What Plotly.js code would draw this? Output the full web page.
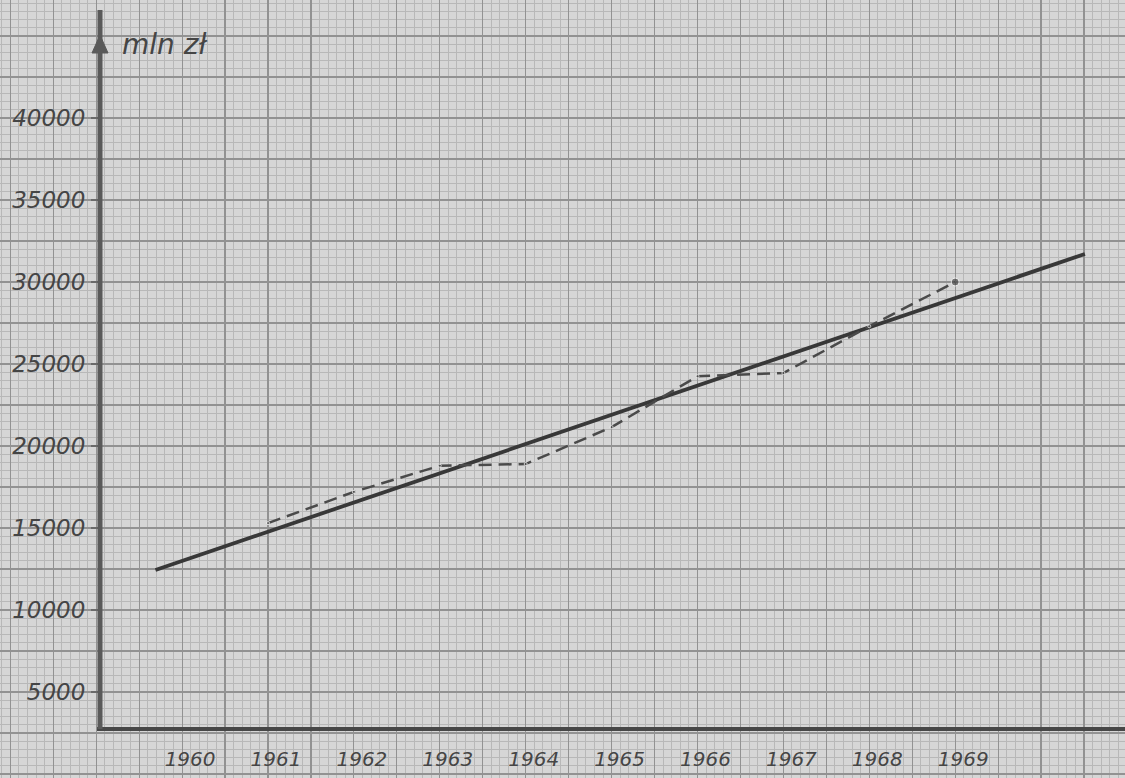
<!DOCTYPE html>
<html>
<head>
<meta charset="utf-8">
<script src="https://cdn.plot.ly/plotly-3.0.1.min.js"></script>
<style>
  html, body { margin: 0; padding: 0; background: #d6d6d6; }
  #chart { width: 1125px; height: 778px; }
</style>
</head>
<body>
<div id="chart"></div>
<script>
// ---- data ----
const years = [1961, 1962, 1963, 1964, 1965, 1966, 1967, 1968, 1969];
const actualValues = [15300, 17200, 18800, 18900, 21150, 24250, 24450, 27300, 30000];
const trendYears = [1959.69, 1970.51];
const trendValues = [12440, 31710];
const xTickYears = [1960, 1961, 1962, 1963, 1964, 1965, 1966, 1967, 1968, 1969];
const xTickLabels = ['1960', '1961', '1962', '1963', '1964', '1965', '1966', '1967', '1968', '1969'];
const yTickValues = [5000, 10000, 15000, 20000, 25000, 30000, 35000, 40000];
const yTickLabels = ['5000', '10000', '15000', '20000', '25000', '30000', '35000', '40000'];
const unitLabel = 'mln zł';

// ---- layout helpers ----
const W = 1125, H = 778;
const px = x => x / W;
const py = y => 1 - y / H;
const xRange = [1957.88, 1970.977];
const yRange = [-244, 47195];

const ink = '#474747';
const tickFont = { family: 'DejaVu Sans', size: 23, style: 'italic', color: '#454545' };

const traces = [
  {
    x: trendYears, y: trendValues, mode: 'lines',
    line: { color: '#383838', width: 3.8 },
    hoverinfo: 'skip', showlegend: false
  },
  {
    x: years, y: actualValues, mode: 'lines+markers',
    line: { color: '#4a4a4a', width: 2.5, dash: '13px,7px' },
    marker: { color: '#4a4a4a', size: actualValues.map((v, i) => i === actualValues.length - 1 ? 8 : 3) },
    hoverinfo: 'skip', showlegend: false
  },
  {
    // carrier for the graph-paper grid axes
    x: trendYears, y: trendValues, xaxis: 'x2', yaxis: 'y2', mode: 'lines',
    line: { width: 0 }, opacity: 0, hoverinfo: 'skip', showlegend: false
  }
];

const layout = {
  width: W, height: H,
  margin: { l: 0, r: 0, t: 0, b: 0, pad: 0 },
  paper_bgcolor: '#d6d6d6',
  plot_bgcolor: '#d6d6d6',
  showlegend: false,
  xaxis: {
    range: xRange, anchor: 'free', position: py(729),
    tickmode: 'array', tickvals: xTickYears, ticktext: xTickLabels,
    showgrid: false, zeroline: false, showline: false, ticks: '',
    tickfont: Object.assign({}, tickFont, { size: 20 }),
    ticklabelstandoff: 16, ticklabelshift: 8, automargin: false
  },
  yaxis: {
    range: yRange, anchor: 'free', position: px(100),
    tickmode: 'array', tickvals: yTickValues, ticktext: yTickLabels,
    showgrid: false, zeroline: false, showline: false,
    ticks: 'outside', ticklen: 9, tickwidth: 2, tickcolor: '#6a6a6a',
    tickfont: tickFont, ticklabelstandoff: 1, automargin: false
  },
  xaxis2: {
    range: xRange, overlaying: 'x', anchor: 'y2',
    tickmode: 'linear', tick0: 0, dtick: 0.5,
    showgrid: true, gridcolor: '#929292', gridwidth: 1.2,
    minor: { tick0: 0, dtick: 0.1, showgrid: true, gridcolor: '#b8b8b8', gridwidth: 1 },
    showticklabels: false, ticks: '', zeroline: false, showline: false
  },
  yaxis2: {
    range: yRange, overlaying: 'y', anchor: 'x2',
    tickmode: 'linear', tick0: 0, dtick: 2500,
    showgrid: true, gridcolor: '#929292', gridwidth: 1.2,
    minor: { tick0: 0, dtick: 500, showgrid: true, gridcolor: '#b8b8b8', gridwidth: 1 },
    showticklabels: false, ticks: '', zeroline: false, showline: false
  },
  shapes: [
    { type: 'line', xref: 'paper', yref: 'paper', x0: px(97), x1: 1, y0: py(729), y1: py(729),
      line: { color: ink, width: 4 } },
    { type: 'line', xref: 'paper', yref: 'paper', x0: px(100), x1: px(100), y0: py(729), y1: py(10),
      line: { color: '#5a5a5a', width: 5 } },
    { type: 'path', xref: 'paper', yref: 'paper',
      path: 'M ' + px(100) + ',' + py(35) + ' L ' + px(92) + ',' + py(53) + ' L ' + px(108) + ',' + py(53) + ' Z',
      fillcolor: '#5a5a5a', line: { color: '#5a5a5a', width: 1 } }
  ],
  annotations: [
    { xref: 'paper', yref: 'paper', x: px(120), y: py(45), xanchor: 'left', yanchor: 'middle',
      text: unitLabel, showarrow: false,
      font: { family: 'DejaVu Sans', size: 28, style: 'italic', color: '#454545' } }
  ]
};

Plotly.newPlot('chart', traces, layout, { staticPlot: true, displayModeBar: false });
</script>
</body>
</html>
